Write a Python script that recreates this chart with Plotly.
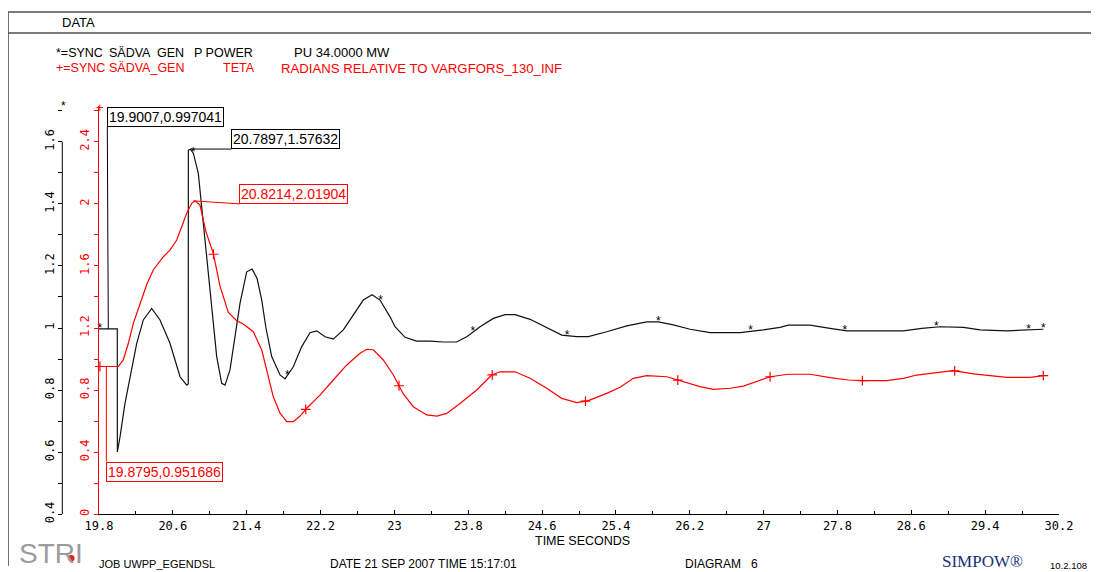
import numpy as np
import plotly.graph_objects as go

W, H = 1099, 572
OX, OY = 8, 8   # the page places the figure 8 px in from the top-left corner

# ---------------- data ----------------
t_power = [19.800, 19.998, 19.999, 20.028, 20.082, 20.136, 20.208, 20.280, 20.371, 20.461,
           20.569, 20.678, 20.750, 20.767, 20.768, 20.790, 20.822, 20.876, 20.913, 20.967,
           21.021, 21.075, 21.129, 21.165, 21.219, 21.273, 21.328, 21.400, 21.458, 21.512,
           21.563, 21.609, 21.671, 21.761, 21.815, 21.905, 21.996, 22.086, 22.159, 22.249,
           22.338, 22.447, 22.555, 22.663, 22.758, 22.844, 22.953, 23.007, 23.115, 23.242,
           23.386, 23.530, 23.675, 23.784, 23.928, 24.072, 24.199, 24.307, 24.470, 24.650,
           24.813, 24.975, 25.101, 25.300, 25.517, 25.734, 25.860, 26.022, 26.203, 26.420,
           26.745, 26.997, 27.178, 27.268, 27.503, 27.720, 27.901, 28.153, 28.514, 28.713,
           28.912, 29.164, 29.345, 29.634, 29.995, 30.031]
p_power = [0.997, 0.997, 0.601, 0.650, 0.758, 0.843, 0.950, 1.026, 1.063, 1.026,
           0.951, 0.843, 0.816, 0.820, 1.573, 1.576, 1.563, 1.498, 1.390, 1.230,
           1.069, 0.908, 0.822, 0.816, 0.865, 0.972, 1.080, 1.181, 1.190, 1.160,
           1.090, 1.000, 0.908, 0.849, 0.836, 0.875, 0.940, 0.985, 0.991, 0.972,
           0.964, 0.994, 1.042, 1.090, 1.107, 1.090, 1.036, 1.004, 0.970, 0.958,
           0.958, 0.955, 0.955, 0.972, 1.004, 1.031, 1.043, 1.043, 1.028, 1.001,
           0.977, 0.972, 0.972, 0.988, 1.007, 1.020, 1.020, 1.010, 0.996, 0.985,
           0.985, 0.994, 1.002, 1.009, 1.009, 0.999, 0.991, 0.991, 0.991, 0.999,
           1.004, 1.002, 0.994, 0.991, 0.994, 0.996]

t_teta = [19.800, 20.009, 20.063, 20.117, 20.172, 20.244, 20.317, 20.388, 20.497, 20.569,
          20.642, 20.696, 20.750, 20.804, 20.840, 20.894, 20.959, 21.038, 21.111, 21.201,
          21.292, 21.363, 21.472, 21.563, 21.634, 21.688, 21.761, 21.834, 21.905, 21.978,
          22.050, 22.194, 22.338, 22.484, 22.628, 22.700, 22.772, 22.880, 22.989, 23.097,
          23.205, 23.350, 23.459, 23.567, 23.711, 23.892, 24.055, 24.144, 24.307, 24.470,
          24.650, 24.813, 24.975, 25.101, 25.300, 25.445, 25.589, 25.734, 25.951, 26.131,
          26.311, 26.456, 26.636, 26.781, 26.926, 27.070, 27.268, 27.503, 27.720, 27.918,
          28.081, 28.334, 28.514, 28.659, 28.875, 29.056, 29.273, 29.453, 29.634, 29.887,
          30.031]
teta = [0.952, 0.952, 0.994, 1.100, 1.230, 1.359, 1.480, 1.574, 1.659, 1.702,
        1.767, 1.852, 1.940, 2.003, 2.019, 1.992, 1.820, 1.681, 1.470, 1.300,
        1.247, 1.226, 1.176, 1.058, 0.886, 0.757, 0.651, 0.597, 0.597, 0.633,
        0.683, 0.768, 0.865, 0.962, 1.037, 1.063, 1.060, 0.994, 0.897, 0.775,
        0.693, 0.640, 0.633, 0.650, 0.714, 0.801, 0.897, 0.918, 0.918, 0.876,
        0.812, 0.747, 0.719, 0.732, 0.779, 0.818, 0.876, 0.893, 0.886, 0.854,
        0.822, 0.805, 0.812, 0.826, 0.854, 0.886, 0.902, 0.902, 0.880, 0.865,
        0.861, 0.861, 0.876, 0.897, 0.912, 0.925, 0.904, 0.891, 0.882, 0.882,
        0.893]

star_t = [19.81, 20.82, 21.84, 22.85, 23.85, 24.87, 25.86, 26.86, 27.88, 28.87, 29.87, 30.03]
plus_t = [19.81, 21.04, 22.04, 23.05, 24.06, 25.07, 26.07, 27.07, 28.07, 29.07, 30.03]

x_ticks = [19.8, 20.6, 21.4, 22.2, 23.0, 23.8, 24.6, 25.4, 26.2, 27.0, 27.8, 28.6, 29.4, 30.2]
x_ticklabels = ["19.8", "20.6", "21.4", "22.2", "23", "23.8", "24.6", "25.4", "26.2", "27",
                "27.8", "28.6", "29.4", "30.2"]
p_ticks = [0.4, 0.6, 0.8, 1.0, 1.2, 1.4, 1.6]
p_ticklabels = ["0.4", "0.6", "0.8", "1", "1.2", "1.4", "1.6"]
teta_ticks = [0, 0.4, 0.8, 1.2, 1.6, 2.0, 2.4]
teta_ticklabels = ["0", "0.4", "0.8", "1.2", "1.6", "2", "2.4"]

# value readouts shown in boxes: (t, value, series)
readouts = [(19.9007, 0.997041, "p"), (20.7897, 1.57632, "p"),
            (20.8214, 2.01904, "teta"), (19.8795, 0.951686, "teta")]

legend_p_parts = ["*=SYNC", "SÄDVA", "GEN", "P POWER", "PU 34.0000 MW"]
legend_t_parts = ["+=SYNC", "SÄDVA_GEN", "TETA", "RADIANS RELATIVE TO VARGFORS_130_INF"]
legend_p_x = [54, 107, 155, 192, 292]
legend_t_x = [54, 107, 221, 279]


def px(x):
    return (x - OX) / W


def py(y):
    return 1 - (y - OY) / H


SANS = "Liberation Sans, Arial, sans-serif"
MONO = "DejaVu Sans Mono, monospace"
BLACK = "#000000"
RED = "#ff0000"

fig = go.Figure()
fig.add_trace(go.Scatter(x=t_power, y=p_power, mode="lines", yaxis="y",
                         line=dict(color="#111111", width=1.2), showlegend=False))
fig.add_trace(go.Scatter(x=t_teta, y=teta, mode="lines", yaxis="y2",
                         line=dict(color=RED, width=1.2), showlegend=False))
fig.add_trace(go.Scatter(x=star_t, y=np.interp(star_t, t_power, p_power), mode="text",
                         text=["*"] * len(star_t), textposition="middle center",
                         textfont=dict(family=SANS, size=12, color=BLACK),
                         yaxis="y", showlegend=False, cliponaxis=False))
fig.add_trace(go.Scatter(x=plus_t, y=np.interp(plus_t, t_teta, teta), mode="markers",
                         marker=dict(symbol="cross-thin", size=7,
                                     line=dict(color=RED, width=1.2)),
                         yaxis="y2", showlegend=False, cliponaxis=False))

y_dom = [py(514.3), py(106)]
fig.update_layout(
    width=W, height=H, margin=dict(l=0, r=0, t=0, b=0, autoexpand=False),
    paper_bgcolor="white", plot_bgcolor="white",
    xaxis=dict(domain=[px(99), px(1059)], range=[19.8, 30.2], anchor="y2",
               showgrid=False, zeroline=False, showline=True, linecolor=BLACK, linewidth=1,
               ticks="inside", ticklen=4, tickcolor=BLACK,
               tickmode="array", tickvals=x_ticks, ticktext=x_ticklabels,
               tickfont=dict(family=MONO, size=12, color=BLACK),
               minor=dict(tickmode="linear", tick0=19.8, dtick=0.4, ticks="inside",
                          ticklen=3, tickcolor=BLACK)),
    yaxis=dict(domain=y_dom, range=[0.4, 1.715], anchor="free", position=px(62.3),
               showgrid=False, zeroline=False, showline=False,
               ticks="outside", ticklen=4, tickcolor=BLACK,
               tickmode="array", tickvals=p_ticks, ticktext=p_ticklabels, tickangle=-90,
               tickfont=dict(family=MONO, size=12, color=BLACK),
               minor=dict(tickmode="linear", tick0=0.4, dtick=0.1, ticks="outside",
                          ticklen=4, tickcolor=BLACK)),
    yaxis2=dict(overlaying="y", anchor="x", side="left", range=[0, 2.63],
                showgrid=False, zeroline=False, showline=True, linecolor=RED, linewidth=1,
                ticks="outside", ticklen=4, tickcolor=RED,
                tickmode="array", tickvals=teta_ticks, ticktext=teta_ticklabels, tickangle=-90,
                tickfont=dict(family=MONO, size=12, color=RED),
                minor=dict(tickmode="linear", tick0=0, dtick=0.2, ticks="outside",
                           ticklen=4, tickcolor=RED)),
)

shapes = []
# black axis line only over its labelled span
shapes.append(dict(type="line", xref="paper", yref="y", x0=px(62.3), x1=px(62.3),
                   y0=p_ticks[0], y1=p_ticks[-1], line=dict(color=BLACK, width=1)))
# frame
frame = dict(color="#505050", width=1.6)
shapes.append(dict(type="line", xref="paper", yref="paper", x0=px(8), x1=1, y0=py(12), y1=py(12), line=frame))
shapes.append(dict(type="line", xref="paper", yref="paper", x0=px(8), x1=1, y0=py(33), y1=py(33), line=frame))
shapes.append(dict(type="line", xref="paper", yref="paper", x0=px(8), x1=px(8), y0=py(12), y1=py(566), line=frame))
# red dot of the logo
shapes.append(dict(type="circle", xref="paper", yref="paper", x0=px(68), x1=px(74.5), y0=py(555), y1=py(561.5),
                   fillcolor="#e02020", line=dict(width=0)))
fig.update_layout(shapes=shapes)

ann = []


def text(x, y, s, size=12.5, color=BLACK, family=SANS, xanchor="left", yanchor="middle"):
    ann.append(dict(x=px(x), y=py(y), xref="paper", yref="paper", text=s, showarrow=False,
                    xanchor=xanchor, yanchor=yanchor,
                    font=dict(family=family, size=size, color=color)))


text(60, 22, "DATA", size=13)
for i, (s, x) in enumerate(zip(legend_p_parts, legend_p_x)):
    text(x, 53, s, size=13 if i == len(legend_p_parts) - 1 else 12.5)
for i, (s, x) in enumerate(zip(legend_t_parts, legend_t_x)):
    text(x, 68, s, color=RED, size=13.2 if i == len(legend_t_parts) - 1 else 12.5)
text(582, 541, "TIME SECONDS", size=12.5, xanchor="center")
text(97, 564, "JOB UWPP_EGENDSL", size=11)
text(328, 564, "DATE 21 SEP 2007 TIME 15:17:01", size=12)
text(683, 564, "DIAGRAM\u00a0\u00a0\u00a06", size=12)
text(940, 561, "SIMPOW®", size=17, color="#1c2f78", family="Liberation Serif, Times New Roman, serif")
text(1048, 565, "10.2.108", size=9.5)
text(17, 571, "STRI", size=28, color="#9c9c9c", family="Liberation Sans, Arial", yanchor="bottom")
text(63, 106, "*", size=12, xanchor="center")
text(100, 107, "+", size=13, color=RED, xanchor="center")

# readout boxes with leader lines
offsets = {0: (-1, -202, "left", "bottom"), 1: (41, 0, "left", "bottom"),
           2: (46, 3, "left", "bottom"), 3: (0, 95, "left", "top")}
for i, (tx, val, ser) in enumerate(readouts):
    col = BLACK if ser == "p" else RED
    ax, ay, xa, ya = offsets[i]
    ann.append(dict(x=tx, y=val, xref="x", yref="y" if ser == "p" else "y2",
                    text=f"{tx:g},{val:g}", showarrow=True, arrowhead=0, arrowwidth=1,
                    arrowcolor=col, ax=ax, ay=ay, xanchor=xa, yanchor=ya,
                    standoff=0, startstandoff=0,
                    bordercolor=col, borderwidth=1, borderpad=1, bgcolor="rgba(255,255,255,0)",
                    font=dict(family=SANS, size=14, color=col)))

fig.update_layout(annotations=ann)
fig.write_html("out.html")
